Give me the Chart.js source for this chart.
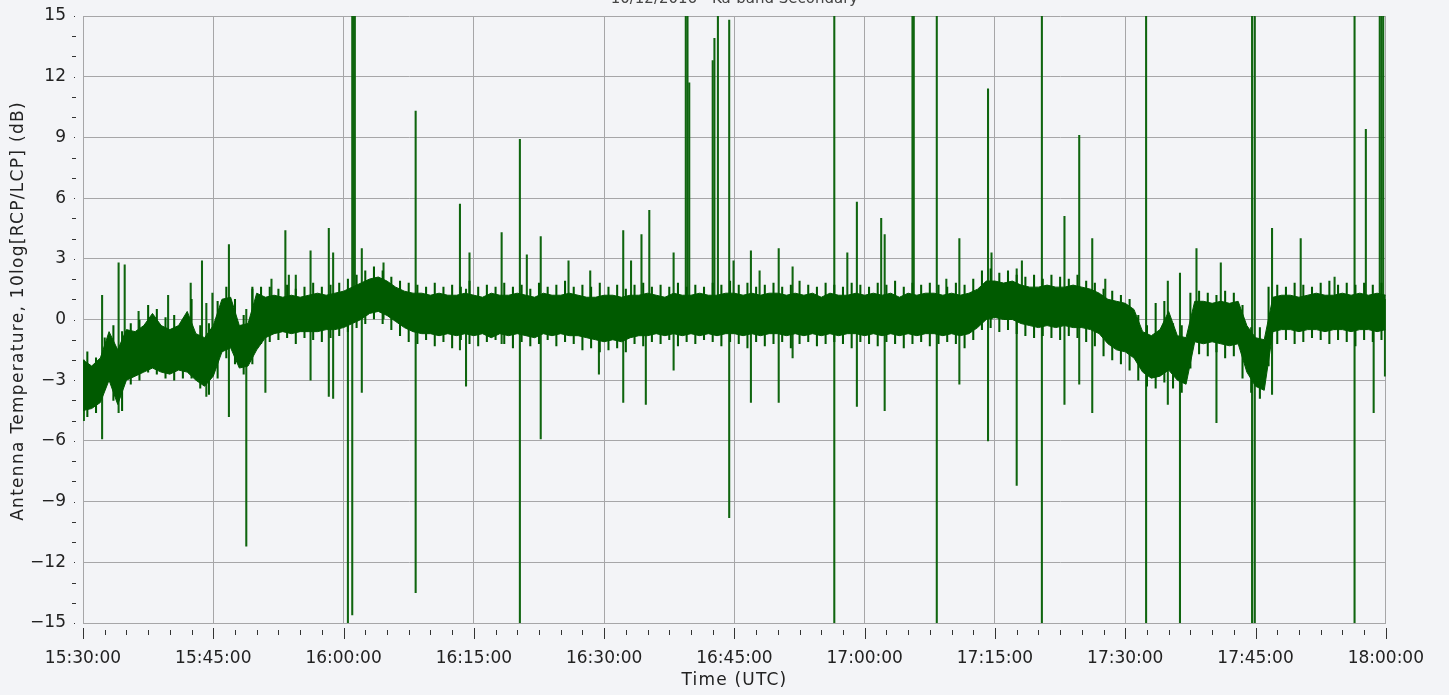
<!DOCTYPE html>
<html>
<head>
<meta charset="utf-8">
<script src="https://cdn.jsdelivr.net/npm/chart.js@4.4.0/dist/chart.umd.min.js"></script>
<style>
  html, body { margin: 0; padding: 0; background: #f3f4f7; overflow: hidden; }
  #wrap { width: 1449px; height: 695px; position: relative; }
</style>
</head>
<body>
<div id="wrap"><canvas id="chart" width="1449" height="695"></canvas></div>
<script>
// title is mostly cut off at the top of the picture
const chartTitle = "10/12/2016 - Ka-band Secondary";
const xTitle = "Time (UTC)";
const yTitle = "Antenna Temperature, 10log[RCP/LCP] (dB)";

// minutes after 15:30:00 UTC
const startSeconds = 15 * 3600 + 30 * 60;
const xMin = 0, xMax = 150, xStep = 15, xMinorStep = 2.5;
const yMin = -15, yMax = 15, yStep = 3;

// dense noise band, one sample per minute (upper / lower edge, dB)
const bandHi = [
  -2.0, -2.3, -1.9, -0.6, -1.5, -0.5, -0.6, -0.3, 0.3, -0.3,
  -0.5, -0.3, 0.4, -0.7, -0.9, -0.3, 1.0, 1.1, -0.3, -0.2,
  1.3, 1.1, 1.2, 1.1, 1.2, 1.1, 1.2, 1.3, 1.2, 1.3,
  1.4, 1.6, 1.8, 2.0, 2.1, 1.9, 1.6, 1.4, 1.3, 1.3,
  1.2, 1.3, 1.2, 1.2, 1.3, 1.2, 1.1, 1.3, 1.2, 1.2,
  1.3, 1.2, 1.1, 1.3, 1.2, 1.2, 1.3, 1.2, 1.1, 1.1,
  1.2, 1.2, 1.1, 1.2, 1.2, 1.3, 1.2, 1.1, 1.3, 1.2,
  1.2, 1.3, 1.2, 1.2, 1.3, 1.3, 1.2, 1.3, 1.2, 1.3,
  1.3, 1.2, 1.3, 1.2, 1.3, 1.1, 1.3, 1.2, 1.2, 1.3,
  1.2, 1.3, 1.2, 1.3, 1.1, 1.3, 1.2, 1.3, 1.3, 1.2,
  1.3, 1.2, 1.3, 1.5, 1.9, 1.9, 1.8, 1.9, 1.7, 1.6,
  1.6, 1.7, 1.6, 1.6, 1.7, 1.6, 1.5, 1.3, 1.0, 0.9,
  0.8, 0.5, -0.6, -0.8, -0.5, 0.4, -0.8, -0.9, 0.9, 0.9,
  0.8, 0.9, 0.8, 0.9, -0.3, -0.9, -1.0, 1.1, 1.2, 1.2,
  1.1, 1.2, 1.3, 1.2, 1.2, 1.3, 1.2, 1.3, 1.2, 1.3, 1.2
];
const bandLo = [
  -4.5, -4.4, -4.1, -3.0, -4.2, -3.0, -2.8, -2.6, -2.4, -2.6,
  -2.7, -2.5, -2.6, -3.0, -3.3, -2.8, -1.6, -1.4, -2.4, -2.3,
  -1.5, -0.9, -0.7, -0.6, -0.7, -0.6, -0.6, -0.6, -0.5, -0.5,
  -0.4, -0.2, 0.0, 0.3, 0.4, 0.2, -0.1, -0.4, -0.6, -0.7,
  -0.7, -0.8, -0.7, -0.8, -0.7, -0.8, -0.7, -0.9, -0.7, -0.8,
  -0.7, -0.8, -0.9, -0.7, -0.8, -0.7, -0.8, -0.8, -0.9, -1.0,
  -1.1, -1.0, -1.1, -0.9, -0.8, -0.8, -0.7, -0.8, -0.7, -0.8,
  -0.7, -0.8, -0.7, -0.8, -0.7, -0.7, -0.8, -0.7, -0.8, -0.7,
  -0.7, -0.8, -0.7, -0.8, -0.7, -0.8, -0.7, -0.8, -0.7, -0.7,
  -0.8, -0.7, -0.8, -0.7, -0.8, -0.7, -0.8, -0.7, -0.7, -0.8,
  -0.7, -0.8, -0.7, -0.4, 0.0, 0.1, 0.0, 0.0, -0.2, -0.3,
  -0.4, -0.3, -0.4, -0.3, -0.4, -0.4, -0.5, -0.7, -1.2, -1.5,
  -1.6, -1.9, -2.6, -2.9, -2.8, -2.5, -3.0, -3.2, -1.1, -1.2,
  -1.1, -1.2, -1.3, -1.2, -2.6, -3.3, -3.5, -0.6, -0.5, -0.5,
  -0.6, -0.5, -0.5, -0.6, -0.5, -0.5, -0.6, -0.5, -0.5, -0.6, -0.5
];

// outer noise whiskers, sampled on the half minute (top / bottom, dB)
const fuzzHi = [
  -1.6, -1.9, -0.9, -0.3, -0.6, -0.2, 0.0, 0.7, 0.5, 0.1,
  0.2, 0.0, 1.0, -0.3, -0.2, 0.9, 1.6, 1.0, 0.2, 1.6,
  1.6, 1.6, 1.5, 1.7, 1.5, 1.6, 1.8, 1.6, 1.7, 1.8,
  2.0, 2.2, 2.4, 2.6, 2.4, 2.1, 1.9, 1.8, 1.7, 1.6,
  1.8, 1.6, 1.7, 1.6, 1.9, 1.6, 1.7, 1.6, 1.8, 1.6,
  1.7, 1.5, 1.8, 1.6, 1.7, 1.9, 1.6, 1.7, 1.6, 1.8,
  1.6, 1.7, 1.5, 1.7, 1.8, 1.6, 1.7, 1.6, 1.8, 1.6,
  1.7, 1.6, 1.8, 1.7, 1.9, 1.7, 1.8, 1.6, 1.7, 1.8,
  1.6, 1.7, 1.9, 1.7, 1.6, 1.8, 1.7, 1.6, 1.8, 1.7,
  1.6, 1.8, 1.7, 1.9, 1.6, 1.8, 1.7, 1.8, 1.7, 1.6,
  1.8, 1.7, 2.0, 2.4, 2.5, 2.3, 2.4, 2.2, 2.1, 2.2,
  2.0, 2.2, 2.1, 2.0, 2.2, 1.9, 1.8, 1.5, 1.4, 1.2,
  1.0, 0.2, -0.3, 0.8, 0.9, -0.2, -0.3, 1.3, 1.4, 1.3,
  1.2, 1.4, 1.3, 0.7, -0.4, -0.4, 1.6, 1.7, 1.6, 1.8,
  1.7, 1.6, 1.8, 1.9, 1.7, 1.8, 1.7, 1.8, 1.7, 1.8
];
const fuzzLo = [
  -4.8, -4.6, -3.4, -4.0, -4.5, -3.2, -3.0, -2.6, -2.7, -2.9,
  -3.0, -2.9, -2.9, -3.4, -3.7, -2.9, -1.9, -2.2, -2.7, -2.2,
  -1.2, -1.1, -1.0, -0.9, -1.2, -0.9, -1.0, -1.1, -0.9, -0.8,
  -0.6, -0.4, -0.2, 0.0, -0.2, -0.5, -0.8, -1.1, -1.2, -1.0,
  -1.3, -1.1, -1.4, -1.0, -1.2, -1.3, -1.1, -1.0, -1.2, -1.4,
  -1.1, -1.3, -1.2, -1.0, -1.3, -1.1, -1.2, -1.5, -1.4, -1.6,
  -1.5, -1.4, -1.6, -1.2, -1.3, -1.1, -1.2, -1.0, -1.3, -1.1,
  -1.2, -1.0, -1.1, -1.3, -1.1, -1.2, -1.4, -1.1, -1.3, -1.2,
  -1.1, -1.4, -1.2, -1.1, -1.3, -1.2, -1.1, -1.2, -1.4, -1.1,
  -1.2, -1.3, -1.1, -1.2, -1.4, -1.2, -1.1, -1.3, -1.2, -1.1,
  -1.2, -1.4, -1.0, -0.5, -0.4, -0.6, -0.5, -0.7, -0.8, -0.9,
  -0.8, -0.9, -1.0, -0.8, -0.9, -1.1, -1.3, -1.8, -2.0, -2.2,
  -2.5, -3.0, -3.3, -3.4, -3.1, -3.4, -3.6, -2.4, -1.7, -1.8,
  -1.6, -1.9, -1.8, -2.9, -3.6, -3.9, -2.3, -1.2, -1.0, -1.2,
  -1.1, -0.9, -1.0, -1.2, -1.0, -1.1, -1.3, -1.0, -1.1, -1.0
];

// single-sample spikes: time (min), top and bottom (dB)
const spikeTime = [
  0.1, 2.2, 4.1, 4.8, 6.4, 9.8, 12.4, 13.7, 14.2, 14.9,
  16.8, 18.8, 19.5, 21.0, 21.7, 23.3, 23.7, 24.5, 26.2, 28.3,
  28.8, 30.5, 31.0, 31.15, 31.3, 32.1, 34.6, 38.3, 43.4, 44.1,
  44.5, 48.2, 50.3, 51.1, 52.7, 55.9, 58.4, 59.4, 62.2, 63.1,
  64.3, 64.8, 65.2, 68.0, 69.4, 69.6, 69.8, 72.5, 72.7, 73.1,
  74.4, 74.9, 76.9, 77.9, 80.1, 81.7, 86.5, 88.0, 89.1, 91.9,
  92.3, 95.5, 95.65, 98.3, 99.4, 100.9, 104.2, 104.6, 107.5, 108.1,
  110.4, 113.0, 114.7, 116.2, 117.7, 122.4, 124.9, 126.3, 128.2, 130.5,
  131.0, 134.6, 134.9, 136.9, 140.2, 144.1, 146.4, 147.7, 148.6, 149.3,
  149.5, 149.7, 149.9
];
const spikeHigh = [
  -2.0, 1.2, 2.8, 2.7, 0.4, 1.2, 1.8, 2.9, 0.8, 1.3,
  3.7, 0.5, 1.5, 0.5, 2.0, 4.4, 2.2, 2.2, 3.4, 4.5,
  3.3, 1.2, 15, 15, 15, 3.5, 2.8, 10.3, 5.7, 1.5,
  3.3, 4.3, 8.9, 3.2, 4.1, 2.9, 2.4, 0.5, 4.4, 2.9,
  4.2, 0.5, 5.4, 3.3, 15, 15, 11.7, 12.8, 13.9, 15,
  14.8, 2.9, 3.4, 2.4, 3.5, 2.6, 15, 3.3, 5.8, 5.0,
  4.2, 15, 15, 15, 2.0, 4.0, 11.4, 3.3, 2.5, 2.9,
  15, 5.1, 9.1, 4.0, 2.0, 15, 1.9, 2.3, 3.5, 0.5,
  2.8, 15, 15, 4.5, 4.0, 2.1, 15, 9.4, 1.0, 15,
  15, 15, 1.0
];
const spikeLow = [
  -5.0, -5.9, -4.6, -3.0, -2.5, -2.5, -2.5, -2.0, -3.8, -2.5,
  -4.8, -11.2, -1.5, -3.6, -0.5, -0.6, -0.5, -0.5, -3.0, -3.8,
  -3.9, -15, -14.6, 0, 0, -3.6, 0, -13.5, -1.5, -3.3,
  -0.5, -1.2, -15, -0.5, -5.9, -0.5, -0.5, -2.7, -4.1, -0.5,
  -0.5, -4.2, -0.5, -2.5, 0, 0, 0, 0, 0, 0,
  -9.8, -0.5, -4.1, -0.5, -4.1, -1.9, -15, -0.5, -4.3, -0.5,
  -4.5, 0, 0, -15, -0.5, -3.2, -6.0, 0, -8.2, 0,
  -15, -4.2, -3.2, -4.6, -0.5, -15, -4.2, -15, -0.5, -5.1,
  -0.5, -15, -15, -3.7, -0.5, -0.5, -15, -0.5, -4.6, 0,
  0, 0, -2.8
];

const green = "#005a00";
const spikeGreen = "#0f650f";
const gridColor = "#a6a6a8";
const textColor = "#222222";
const fontFamily = "'DejaVu Sans', Verdana, sans-serif";

function fmtTime(min) {
  const s = Math.round(startSeconds + min * 60);
  const hh = String(Math.floor(s / 3600)).padStart(2, "0");
  const mm = String(Math.floor((s % 3600) / 60)).padStart(2, "0");
  const ss = String(s % 60).padStart(2, "0");
  return `${hh}:${mm}:${ss}`;
}

const bandTop = bandHi.map((v, i) => ({ x: i, y: v }));
const bandBottom = bandLo.map((v, i) => ({ x: i, y: v }));
const fuzz = fuzzHi.map((v, i) => ({ x: i + 0.5, y: [fuzzLo[i], v] }));
const spikes = spikeTime.map((t, i) => ({ x: t, y: [spikeLow[i], spikeHigh[i]] }));

// extra axis decorations: tick marks below the axis, minor y dashes, titles
const decor = {
  id: "decor",
  afterDraw(chart) {
    const { ctx, chartArea, scales } = chart;
    ctx.save();
    ctx.strokeStyle = "#333";
    ctx.lineWidth = 1;
    for (let t = xMin; t <= xMax + 0.001; t += xMinorStep) {
      const px = Math.round(scales.x.getPixelForValue(t)) + 0.5;
      const major = Math.abs(t % xStep) < 0.001;
      ctx.beginPath();
      if (major) {
        ctx.moveTo(px, chartArea.bottom + 5);
        ctx.lineTo(px, chartArea.bottom + 16);
      } else {
        ctx.moveTo(px, chartArea.bottom + 7);
        ctx.lineTo(px, chartArea.bottom + 12);
      }
      ctx.stroke();
    }
    for (let v = yMin; v <= yMax; v += 1) {
      const py = Math.round(scales.y.getPixelForValue(v)) + 0.5;
      ctx.beginPath();
      if (v % yStep === 0) {
        ctx.moveTo(chartArea.left - 9, py);
        ctx.lineTo(chartArea.left - 8, py);
      } else {
        ctx.moveTo(chartArea.left - 11, py);
        ctx.lineTo(chartArea.left - 7, py);
      }
      ctx.stroke();
    }
    const midX = (chartArea.left + chartArea.right) / 2;
    ctx.textAlign = "center";
    ctx.textBaseline = "alphabetic";
    ctx.fillStyle = "#444";
    ctx.font = "15px " + fontFamily;
    ctx.fillText(chartTitle, midX, 3);

    ctx.fillStyle = textColor;
    ctx.font = "17px " + fontFamily;
    ctx.letterSpacing = "1.2px";
    ctx.textBaseline = "middle";
    ctx.fillText(xTitle, midX, 681);
    ctx.translate(19, 311);
    ctx.rotate(-Math.PI / 2);
    ctx.letterSpacing = "1.3px";
    ctx.fillText(yTitle, 0, 0);
    ctx.restore();
  }
};

new Chart(document.getElementById("chart"), {
  type: "bar",
  data: {
    datasets: [
      {
        type: "bar",
        data: spikes,
        backgroundColor: spikeGreen,
        borderWidth: 0,
        barThickness: 1.4,
        grouped: false,
        order: 3
      },
      {
        type: "bar",
        data: fuzz,
        backgroundColor: green,
        borderWidth: 0,
        barThickness: 1.4,
        grouped: false,
        order: 2
      },
      {
        type: "line",
        data: bandTop,
        borderColor: green,
        backgroundColor: green,
        borderWidth: 1,
        pointRadius: 0,
        fill: "+1",
        order: 1
      },
      {
        type: "line",
        data: bandBottom,
        borderColor: green,
        borderWidth: 1,
        pointRadius: 0,
        fill: false,
        order: 1
      }
    ]
  },
  options: {
    responsive: false,
    animation: false,
    devicePixelRatio: 1,
    layout: { padding: { top: 16, right: 62, left: 0, bottom: 0 } },
    plugins: {
      legend: { display: false },
      tooltip: { enabled: false },
      title: { display: false }
    },
    scales: {
      x: {
        type: "linear",
        min: xMin,
        max: xMax,
        offset: false,
        grid: { color: gridColor, lineWidth: 1, drawTicks: false, offset: false },
        border: { color: gridColor },
        ticks: {
          stepSize: xStep,
          padding: 25,
          color: textColor,
          maxRotation: 0,
          font: { family: fontFamily, size: 17 },
          callback: (v) => fmtTime(v)
        },
        afterFit(scale) { scale.height = 72; }
      },
      y: {
        min: yMin,
        max: yMax,
        grid: { color: gridColor, lineWidth: 1, drawTicks: false },
        border: { color: gridColor },
        ticks: {
          stepSize: yStep,
          padding: 17,
          color: textColor,
          font: { family: fontFamily, size: 17 },
          callback: (v) => (v < 0 ? "\u2212" + Math.abs(v) : String(v))
        },
        afterFit(scale) {
          scale.width = 83;
          scale.paddingTop = 0;
          scale.paddingBottom = 0;
        }
      }
    }
  },
  plugins: [decor]
});
</script>
</body>
</html>
